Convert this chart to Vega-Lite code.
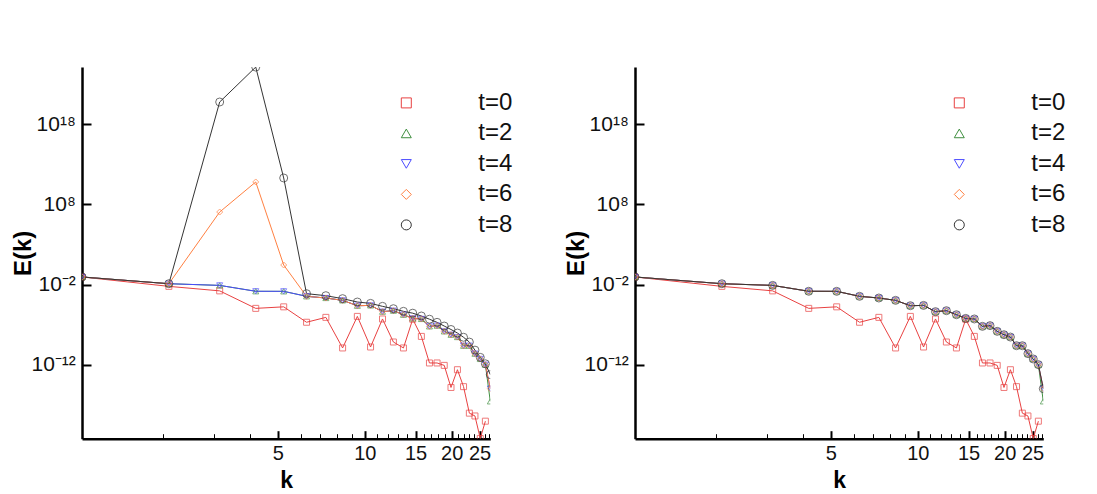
{
  "$schema": "https://vega.github.io/schema/vega-lite/v6.json",
  "padding": {"left": 11, "top": 67, "right": 5, "bottom": 5},
  "background": "white",
  "config": {
    "view": {"stroke": null},
    "font": "Liberation Sans",
    "axis": {"grid": false}
  },
  "datasets": {
    "left": [
      {"k": 1.0472, "t=0": 9.12e-2, "t=2": 9.12e-2, "t=4": 9.12e-2, "t=6": 9.12e-2, "t=8": 9.12e-2},
      {"k": 2.0944, "t=0": 6.17e-3, "t=2": 1.32e-2, "t=4": 1.32e-2, "t=6": 1.32e-2, "t=8": 1.32e-2},
      {"k": 3.1416, "t=0": 1.70e-3, "t=2": 8.13e-3, "t=4": 8.13e-3, "t=6": 1.12e7, "t=8": 5.62e20},
      {"k": 4.1888, "t=0": 1.12e-5, "t=2": 1.51e-3, "t=4": 1.51e-3, "t=6": 6.17e10, "t=8": 1.26e25},
      {"k": 5.236, "t=0": 1.74e-5, "t=2": 1.48e-3, "t=4": 1.48e-3, "t=6": 2.82, "t=8": 1.95e11},
      {"k": 6.2832, "t=0": 2.09e-7, "t=2": 3.55e-4, "t=4": 3.55e-4, "t=6": 3.55e-4, "t=8": 7.59e-4},
      {"k": 7.3304, "t=0": 8.51e-7, "t=2": 2.19e-4, "t=4": 2.19e-4, "t=6": 2.19e-4, "t=8": 4.27e-4},
      {"k": 8.3776, "t=0": 1.32e-10, "t=2": 1.12e-4, "t=4": 1.12e-4, "t=6": 1.12e-4, "t=8": 1.82e-4},
      {"k": 9.4248, "t=0": 1.12e-6, "t=2": 2.40e-5, "t=4": 2.40e-5, "t=6": 2.40e-5, "t=8": 6.92e-5},
      {"k": 10.472, "t=0": 1.74e-10, "t=2": 2.63e-5, "t=4": 2.63e-5, "t=6": 2.63e-5, "t=8": 4.68e-5},
      {"k": 11.519, "t=0": 5.37e-7, "t=2": 4.37e-6, "t=4": 4.37e-6, "t=6": 4.37e-6, "t=8": 2.0e-5},
      {"k": 12.566, "t=0": 7.24e-10, "t=2": 5.75e-6, "t=4": 5.75e-6, "t=6": 5.75e-6, "t=8": 1.02e-5},
      {"k": 13.614, "t=0": 1.32e-10, "t=2": 1.82e-6, "t=4": 1.82e-6, "t=6": 1.82e-6, "t=8": 4.79e-6},
      {"k": 14.661, "t=0": 5.01e-7, "t=2": 6.31e-7, "t=4": 6.31e-7, "t=6": 6.31e-7, "t=8": 2.82e-6},
      {"k": 15.708, "t=0": 3.63e-9, "t=2": 5.37e-7, "t=4": 5.37e-7, "t=6": 5.37e-7, "t=8": 1.26e-6},
      {"k": 16.755, "t=0": 1.78e-12, "t=2": 6.46e-8, "t=4": 6.46e-8, "t=6": 6.46e-8, "t=8": 5.01e-7},
      {"k": 17.802, "t=0": 1.78e-12, "t=2": 7.94e-8, "t=4": 7.94e-8, "t=6": 7.94e-8, "t=8": 2.04e-7},
      {"k": 18.85, "t=0": 8.91e-13, "t=2": 1.55e-8, "t=4": 1.55e-8, "t=6": 1.55e-8, "t=8": 7.08e-8},
      {"k": 19.897, "t=0": 1.58e-15, "t=2": 5.89e-9, "t=4": 5.89e-9, "t=6": 5.89e-9, "t=8": 2.63e-8},
      {"k": 20.944, "t=0": 2.57e-13, "t=2": 3.02e-9, "t=4": 3.02e-9, "t=6": 3.02e-9, "t=8": 9.55e-9},
      {"k": 21.991, "t=0": 2.0e-15, "t=2": 2.51e-10, "t=4": 2.51e-10, "t=6": 2.51e-10, "t=8": 2.82e-9},
      {"k": 23.038, "t=0": 1.0e-18, "t=2": 2.51e-10, "t=4": 2.51e-10, "t=6": 2.51e-10, "t=8": 7.08e-10},
      {"k": 24.086, "t=0": 4.47e-19, "t=2": 2.57e-11, "t=4": 2.57e-11, "t=6": 2.57e-11, "t=8": 7.08e-11},
      {"k": 25.133, "t=0": 7.08e-22, "t=2": 5.62e-12, "t=4": 5.62e-12, "t=6": 5.62e-12, "t=8": 8.91e-12},
      {"k": 26.18, "t=0": 1.0e-19, "t=2": 1.10e-12, "t=4": 1.10e-12, "t=6": 1.10e-12, "t=8": 1.41e-12},
      {"k": 27.227, "t=2": 2.95e-17, "t=4": 1.12e-15, "t=6": 1.12e-15, "t=8": 6.31e-14}
    ],
    "right": [
      {"k": 1.0472, "t=0": 9.12e-2, "t=2": 9.12e-2, "t=4": 9.12e-2, "t=6": 9.12e-2, "t=8": 9.12e-2},
      {"k": 2.0944, "t=0": 6.17e-3, "t=2": 1.32e-2, "t=4": 1.32e-2, "t=6": 1.32e-2, "t=8": 1.32e-2},
      {"k": 3.1416, "t=0": 1.70e-3, "t=2": 8.13e-3, "t=4": 8.13e-3, "t=6": 8.13e-3, "t=8": 8.13e-3},
      {"k": 4.1888, "t=0": 1.12e-5, "t=2": 1.51e-3, "t=4": 1.51e-3, "t=6": 1.51e-3, "t=8": 1.51e-3},
      {"k": 5.236, "t=0": 1.74e-5, "t=2": 1.48e-3, "t=4": 1.48e-3, "t=6": 1.48e-3, "t=8": 1.48e-3},
      {"k": 6.2832, "t=0": 2.09e-7, "t=2": 3.55e-4, "t=4": 3.55e-4, "t=6": 3.55e-4, "t=8": 3.55e-4},
      {"k": 7.3304, "t=0": 8.51e-7, "t=2": 2.19e-4, "t=4": 2.19e-4, "t=6": 2.19e-4, "t=8": 2.19e-4},
      {"k": 8.3776, "t=0": 1.32e-10, "t=2": 1.12e-4, "t=4": 1.12e-4, "t=6": 1.12e-4, "t=8": 1.12e-4},
      {"k": 9.4248, "t=0": 1.12e-6, "t=2": 2.40e-5, "t=4": 2.40e-5, "t=6": 2.40e-5, "t=8": 2.40e-5},
      {"k": 10.472, "t=0": 1.74e-10, "t=2": 2.63e-5, "t=4": 2.63e-5, "t=6": 2.63e-5, "t=8": 2.63e-5},
      {"k": 11.519, "t=0": 5.37e-7, "t=2": 4.37e-6, "t=4": 4.37e-6, "t=6": 4.37e-6, "t=8": 4.37e-6},
      {"k": 12.566, "t=0": 7.24e-10, "t=2": 5.75e-6, "t=4": 5.75e-6, "t=6": 5.75e-6, "t=8": 5.75e-6},
      {"k": 13.614, "t=0": 1.32e-10, "t=2": 1.82e-6, "t=4": 1.82e-6, "t=6": 1.82e-6, "t=8": 1.82e-6},
      {"k": 14.661, "t=0": 5.01e-7, "t=2": 6.31e-7, "t=4": 6.31e-7, "t=6": 6.31e-7, "t=8": 6.31e-7},
      {"k": 15.708, "t=0": 3.63e-9, "t=2": 5.37e-7, "t=4": 5.37e-7, "t=6": 5.37e-7, "t=8": 5.37e-7},
      {"k": 16.755, "t=0": 1.78e-12, "t=2": 6.46e-8, "t=4": 6.46e-8, "t=6": 6.46e-8, "t=8": 6.46e-8},
      {"k": 17.802, "t=0": 1.78e-12, "t=2": 7.94e-8, "t=4": 7.94e-8, "t=6": 7.94e-8, "t=8": 7.94e-8},
      {"k": 18.85, "t=0": 8.91e-13, "t=2": 1.55e-8, "t=4": 1.55e-8, "t=6": 1.55e-8, "t=8": 1.55e-8},
      {"k": 19.897, "t=0": 1.58e-15, "t=2": 5.89e-9, "t=4": 5.89e-9, "t=6": 5.89e-9, "t=8": 5.89e-9},
      {"k": 20.944, "t=0": 2.57e-13, "t=2": 3.02e-9, "t=4": 3.02e-9, "t=6": 3.02e-9, "t=8": 3.02e-9},
      {"k": 21.991, "t=0": 2.0e-15, "t=2": 2.51e-10, "t=4": 2.51e-10, "t=6": 2.51e-10, "t=8": 2.51e-10},
      {"k": 23.038, "t=0": 1.0e-18, "t=2": 2.51e-10, "t=4": 2.51e-10, "t=6": 2.51e-10, "t=8": 2.51e-10},
      {"k": 24.086, "t=0": 4.47e-19, "t=2": 2.57e-11, "t=4": 2.57e-11, "t=6": 2.57e-11, "t=8": 2.57e-11},
      {"k": 25.133, "t=0": 7.08e-22, "t=2": 5.62e-12, "t=4": 5.62e-12, "t=6": 5.62e-12, "t=8": 5.62e-12},
      {"k": 26.18, "t=0": 1.0e-19, "t=2": 1.10e-12, "t=4": 1.10e-12, "t=6": 1.10e-12, "t=8": 1.10e-12},
      {"k": 27.227, "t=2": 2.95e-17, "t=4": 1.12e-15, "t=6": 1.12e-15, "t=8": 1.12e-15}
    ]
  },
  "spacing": 50,
  "resolve": {
    "scale": {"color": "independent", "shape": "independent"}
  },
  "hconcat": [
    {
      "width": 408.3,
      "height": 371.7,
      "data": {"name": "left"},
      "layer": [
        {
          "transform": [{"fold": ["t=0", "t=2", "t=4", "t=6", "t=8"], "as": ["t", "E"]}],
          "mark": {"type": "line", "strokeWidth": 1, "clip": true},
          "encoding": {
            "x": {"field": "k", "type": "quantitative",
              "scale": {"type": "log", "domain": [1.0472, 27.227], "nice": false},
              "axis": {"values": [2, 3, 4, 5, 6, 7, 8, 9, 10, 11, 12, 13, 14, 15, 16, 17, 18, 19, 20, 21, 22, 23, 24, 25, 26, 27],
                "format": "d", "labelExpr": "datum.value % 5 === 0 ? datum.label : ''",
                "tickSize": {"condition": {"test": "datum.value % 5 === 0", "value": -8}, "value": -5},
                "tickWidth": {"condition": {"test": "datum.value % 5 === 0", "value": 2}, "value": 1},
                "tickColor": "#000", "domainColor": "#000", "domainWidth": 2.5,
                "labelFont": "Liberation Sans", "labelFontSize": 20, "labelColor": "#111",
                "labelBaseline": "alphabetic", "labelPadding": 29, "labelOverlap": false, "labelFlush": false,
                "title": "k", "titleFont": "Liberation Sans", "titleFontSize": 23, "titleFontWeight": "bold",
                "titleBaseline": "alphabetic", "titleY": 49, "titleColor": "#000"}},
            "y": {"field": "E", "type": "quantitative",
              "scale": {"type": "log", "domain": [6.6e-22, 1.29e25], "nice": false},
              "axis": {"values": [1e-12, 1e-2, 1e8, 1e18],
                "labelExpr": "datum.value < 1e-10 ? '10⁻¹²' : datum.value < 1 ? '10⁻²' : datum.value < 1e10 ? '10⁸' : '10¹⁸'",
                "tickSize": -9, "tickWidth": 2, "tickColor": "#000", "domainColor": "#000", "domainWidth": 2.5,
                "labelFont": "Liberation Sans", "labelFontSize": 21, "labelColor": "#111",
                "labelPadding": 15.7, "labelOverlap": false, "labelFlush": false,
                "title": "E(k)", "titleFont": "Liberation Sans", "titleFontSize": 24, "titleFontWeight": "bold",
                "titleBaseline": "alphabetic", "titleX": -51.7, "titleColor": "#000"}},
            "color": {"field": "t", "type": "nominal",
              "scale": {"domain": ["t=0", "t=2", "t=4", "t=6", "t=8"], "range": ["#e84040", "#3f8f3f", "#4b4bff", "#ff8040", "#333333"]},
              "legend": {"orient": "none", "legendX": 312.3, "legendY": 23.9, "title": null,
                "labelFont": "Liberation Sans", "labelFontSize": 24, "labelColor": "#111",
                "symbolSize": 100, "symbolStrokeWidth": 1, "symbolOffset": 0, "labelOffset": 60, "rowPadding": 6.5,
                "encode": {"symbols": {"update": {
                  "fill": {"value": "transparent"},
                  "shape": {"signal": "datum.value == 't=0' ? 'M-10.8,0H-0.55M0.55,0H10.8M-0.55,-0.55H0.55V0.55H-0.55V-0.55' : datum.value == 't=2' ? 'M-10.8,0H-0.45M0.45,0H10.8M0,-0.75L0.75,0.55H-0.75L0,-0.75' : datum.value == 't=4' ? 'M-10.8,0H-0.45M0.45,0H10.8M0,0.75L0.75,-0.55H-0.75L0,0.75' : datum.value == 't=6' ? 'M-10.8,0H-0.85M0.85,0H10.8M0,-0.85L0.85,0L0,0.85L-0.85,0L0,-0.85' : 'M-10.8,0H-0.85M0.85,0L0.736,0.425L0.425,0.736L0,0.85L-0.425,0.736L-0.736,0.425L-0.85,0L-0.736,-0.425L-0.425,-0.736L0,-0.85L0.425,-0.736L0.736,-0.425L0.85,0H10.8'"}}}}}}
          }
        },
        {
          "transform": [{"fold": ["t=0", "t=2", "t=4", "t=6", "t=8"], "as": ["s", "E"]}, {"filter": "datum.s != 't=8'"}],
          "mark": {"type": "point", "filled": false, "strokeWidth": 1, "clip": true, "size": 36},
          "encoding": {
            "x": {"field": "k", "type": "quantitative"},
            "y": {"field": "E", "type": "quantitative"},
            "color": {"field": "s", "type": "nominal", "legend": null},
            "shape": {"field": "s", "type": "nominal",
              "scale": {"domain": ["t=0", "t=2", "t=4", "t=6", "t=8"], "range": ["square", "triangle-up", "triangle-down", "diamond", "circle"]},
              "legend": null}
          }
        },
        {
          "transform": [{"fold": ["t=8"], "as": ["s", "E"]}],
          "mark": {"type": "point", "filled": false, "strokeWidth": 1, "clip": true, "size": 64},
          "encoding": {
            "x": {"field": "k", "type": "quantitative"},
            "y": {"field": "E", "type": "quantitative"},
            "color": {"field": "s", "type": "nominal", "legend": null},
            "shape": {"field": "s", "type": "nominal", "legend": null}
          }
        }
      ]
    },
    {
      "width": 408.3,
      "height": 371.7,
      "data": {"name": "right"},
      "layer": [
        {
          "transform": [{"fold": ["t=0", "t=2", "t=4", "t=6", "t=8"], "as": ["t", "E"]}],
          "mark": {"type": "line", "strokeWidth": 1, "clip": true},
          "encoding": {
            "x": {"field": "k", "type": "quantitative",
              "scale": {"type": "log", "domain": [1.0472, 27.227], "nice": false},
              "axis": {"values": [2, 3, 4, 5, 6, 7, 8, 9, 10, 11, 12, 13, 14, 15, 16, 17, 18, 19, 20, 21, 22, 23, 24, 25, 26, 27],
                "format": "d", "labelExpr": "datum.value % 5 === 0 ? datum.label : ''",
                "tickSize": {"condition": {"test": "datum.value % 5 === 0", "value": -8}, "value": -5},
                "tickWidth": {"condition": {"test": "datum.value % 5 === 0", "value": 2}, "value": 1},
                "tickColor": "#000", "domainColor": "#000", "domainWidth": 2.5,
                "labelFont": "Liberation Sans", "labelFontSize": 20, "labelColor": "#111",
                "labelBaseline": "alphabetic", "labelPadding": 29, "labelOverlap": false, "labelFlush": false,
                "title": "k", "titleFont": "Liberation Sans", "titleFontSize": 23, "titleFontWeight": "bold",
                "titleBaseline": "alphabetic", "titleY": 49, "titleColor": "#000"}},
            "y": {"field": "E", "type": "quantitative",
              "scale": {"type": "log", "domain": [6.6e-22, 1.29e25], "nice": false},
              "axis": {"values": [1e-12, 1e-2, 1e8, 1e18],
                "labelExpr": "datum.value < 1e-10 ? '10⁻¹²' : datum.value < 1 ? '10⁻²' : datum.value < 1e10 ? '10⁸' : '10¹⁸'",
                "tickSize": -9, "tickWidth": 2, "tickColor": "#000", "domainColor": "#000", "domainWidth": 2.5,
                "labelFont": "Liberation Sans", "labelFontSize": 21, "labelColor": "#111",
                "labelPadding": 15.7, "labelOverlap": false, "labelFlush": false,
                "title": "E(k)", "titleFont": "Liberation Sans", "titleFontSize": 24, "titleFontWeight": "bold",
                "titleBaseline": "alphabetic", "titleX": -51.7, "titleColor": "#000"}},
            "color": {"field": "t", "type": "nominal",
              "scale": {"domain": ["t=0", "t=2", "t=4", "t=6", "t=8"], "range": ["#e84040", "#3f8f3f", "#4b4bff", "#ff8040", "#333333"]},
              "legend": {"orient": "none", "legendX": 312.3, "legendY": 23.9, "title": null,
                "labelFont": "Liberation Sans", "labelFontSize": 24, "labelColor": "#111",
                "symbolSize": 100, "symbolStrokeWidth": 1, "symbolOffset": 0, "labelOffset": 60, "rowPadding": 6.5,
                "encode": {"symbols": {"update": {
                  "fill": {"value": "transparent"},
                  "shape": {"signal": "datum.value == 't=0' ? 'M-10.8,0H-0.55M0.55,0H10.8M-0.55,-0.55H0.55V0.55H-0.55V-0.55' : datum.value == 't=2' ? 'M-10.8,0H-0.45M0.45,0H10.8M0,-0.75L0.75,0.55H-0.75L0,-0.75' : datum.value == 't=4' ? 'M-10.8,0H-0.45M0.45,0H10.8M0,0.75L0.75,-0.55H-0.75L0,0.75' : datum.value == 't=6' ? 'M-10.8,0H-0.85M0.85,0H10.8M0,-0.85L0.85,0L0,0.85L-0.85,0L0,-0.85' : 'M-10.8,0H-0.85M0.85,0L0.736,0.425L0.425,0.736L0,0.85L-0.425,0.736L-0.736,0.425L-0.85,0L-0.736,-0.425L-0.425,-0.736L0,-0.85L0.425,-0.736L0.736,-0.425L0.85,0H10.8'"}}}}}}
          }
        },
        {
          "transform": [{"fold": ["t=0", "t=2", "t=4", "t=6", "t=8"], "as": ["s", "E"]}, {"filter": "datum.s != 't=8'"}],
          "mark": {"type": "point", "filled": false, "strokeWidth": 1, "clip": true, "size": 36},
          "encoding": {
            "x": {"field": "k", "type": "quantitative"},
            "y": {"field": "E", "type": "quantitative"},
            "color": {"field": "s", "type": "nominal", "legend": null},
            "shape": {"field": "s", "type": "nominal",
              "scale": {"domain": ["t=0", "t=2", "t=4", "t=6", "t=8"], "range": ["square", "triangle-up", "triangle-down", "diamond", "circle"]},
              "legend": null}
          }
        },
        {
          "transform": [{"fold": ["t=8"], "as": ["s", "E"]}],
          "mark": {"type": "point", "filled": false, "strokeWidth": 1, "clip": true, "size": 64},
          "encoding": {
            "x": {"field": "k", "type": "quantitative"},
            "y": {"field": "E", "type": "quantitative"},
            "color": {"field": "s", "type": "nominal", "legend": null},
            "shape": {"field": "s", "type": "nominal", "legend": null}
          }
        }
      ]
    }
  ]
}
